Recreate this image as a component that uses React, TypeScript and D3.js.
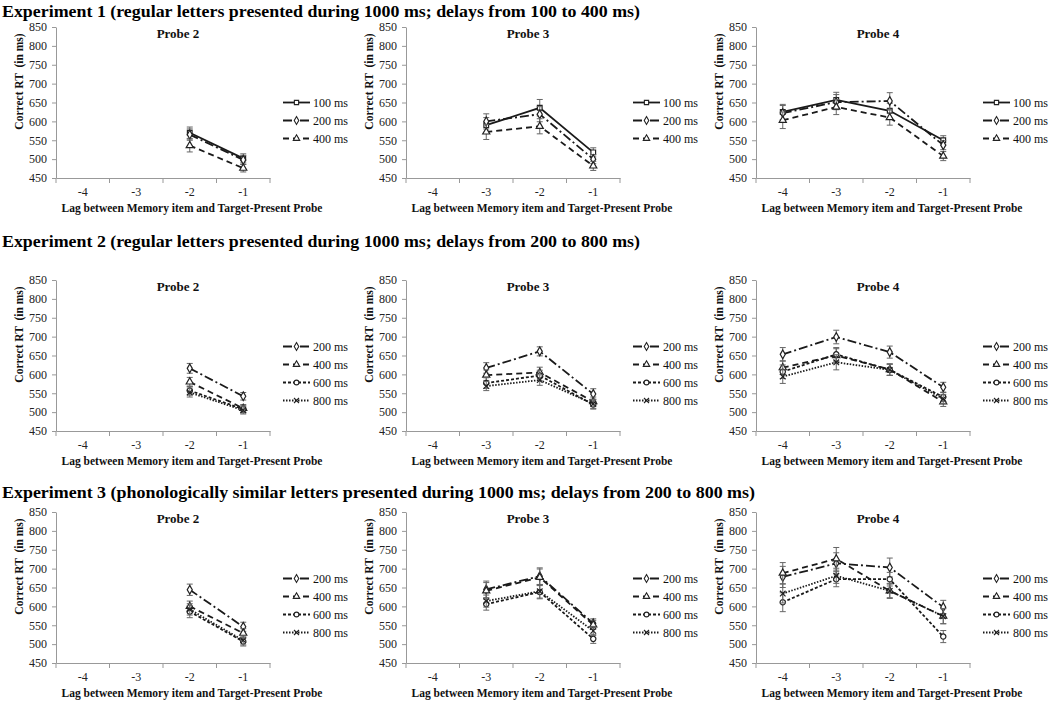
import React, { useRef, useEffect } from 'react';
import * as d3 from 'd3';

// Categories and labels
const lags = ['-4', '-3', '-2', '-1'];
const yTicks = [450, 500, 550, 600, 650, 700, 750, 800, 850];
const experimentTitles = [
  'Experiment 1 (regular letters presented during 1000 ms; delays from 100 to 400 ms)',
  'Experiment 2 (regular letters presented during 1000 ms; delays from 200 to 800 ms)',
  'Experiment 3 (phonologically similar letters presented during 1000 ms; delays from 200 to 800 ms)',
];
const probeTitles = ['Probe 2', 'Probe 3', 'Probe 4'];
const probeLags = [['-2', '-1'], ['-3', '-2', '-1'], ['-4', '-3', '-2', '-1']];
const exp1Delays = ['100 ms', '200 ms', '400 ms'];
const exp23Delays = ['200 ms', '400 ms', '600 ms', '800 ms'];

// Mean correct RT (ms): one row per delay, one value per lag shown
const e1p2Means = [[570, 502], [565, 498], [536, 476]];
const e1p2Errors = [[15, 12], [15, 12], [17, 10]];
const e1p3Means = [[590, 636, 518], [600, 619, 500], [572, 587, 482]];
const e1p3Errors = [[20, 22, 12], [20, 20, 12], [20, 20, 12]];
const e1p4Means = [[625, 657, 628, 550], [622, 651, 654, 537], [603, 638, 610, 508]];
const e1p4Errors = [[20, 20, 20, 12], [20, 20, 22, 12], [22, 20, 20, 12]];

const e2p2Means = [[616, 542], [580, 510], [557, 508], [552, 505]];
const e2p2Errors = [[13, 10], [12, 10], [12, 10], [12, 10]];
const e2p3Means = [[617, 661, 548], [598, 605, 528], [577, 597, 520], [569, 585, 522]];
const e2p3Errors = [[14, 12, 14], [14, 14, 12], [14, 14, 12], [12, 14, 12]];
const e2p4Means = [[653, 699, 659, 566], [618, 650, 613, 527], [607, 653, 612, 540], [594, 632, 612, 535]];
const e2p4Errors = [[18, 18, 16, 13], [18, 18, 15, 12], [18, 18, 15, 12], [18, 20, 15, 12]];

const e3p2Means = [[644, 546], [600, 529], [586, 507], [592, 510]];
const e3p2Errors = [[15, 12], [14, 12], [16, 12], [15, 12]];
const e3p3Means = [[645, 680, 555], [641, 677, 551], [606, 638, 514], [614, 640, 535]];
const e3p3Errors = [[22, 22, 12], [22, 22, 12], [16, 18, 12], [16, 18, 12]];
const e3p4Means = [[678, 714, 703, 598], [688, 726, 641, 574], [611, 672, 672, 520], [634, 681, 641, 574]];
const e3p4Errors = [[28, 28, 25, 18], [28, 30, 20, 20], [25, 20, 18, 16], [25, 20, 18, 20]];

const panels = [
  { row: 0, col: 0, delays: exp1Delays, means: e1p2Means, errors: e1p2Errors },
  { row: 0, col: 1, delays: exp1Delays, means: e1p3Means, errors: e1p3Errors },
  { row: 0, col: 2, delays: exp1Delays, means: e1p4Means, errors: e1p4Errors },
  { row: 1, col: 0, delays: exp23Delays, means: e2p2Means, errors: e2p2Errors },
  { row: 1, col: 1, delays: exp23Delays, means: e2p3Means, errors: e2p3Errors },
  { row: 1, col: 2, delays: exp23Delays, means: e2p4Means, errors: e2p4Errors },
  { row: 2, col: 0, delays: exp23Delays, means: e3p2Means, errors: e3p2Errors },
  { row: 2, col: 1, delays: exp23Delays, means: e3p3Means, errors: e3p3Errors },
  { row: 2, col: 2, delays: exp23Delays, means: e3p4Means, errors: e3p4Errors },
];

// line style + marker per delay
const delayStyles = {
  '100 ms': { dash: null, symbol: d3.symbolSquare },
  '200 ms': { dash: '9,3,2,3', symbol: d3.symbolDiamond },
  '400 ms': { dash: '6,4', symbol: d3.symbolTriangle },
  '600 ms': { dash: '3,2', symbol: d3.symbolCircle },
  '800 ms': { dash: '1.5,1.5', symbol: d3.symbolTimes || d3.symbolCross },
};

const W = 1050;
const H = 704;
const FONT = 'Liberation Serif, Times New Roman, serif';

const ChartGrid = () => {
  const svgRef = useRef(null);

  useEffect(() => {
    const svg = d3.select(svgRef.current);
    svg.selectAll('*').remove();

    const colX = [0, 350, 700];
    const rowTop = [27, 280, 512];
    const titleY = [17, 247, 498];
    const titleLen = [638, 638, 753];
    const plotH = 151;
    const plotL = 56;
    const plotR = 270;

    svg.append('rect').attr('width', W).attr('height', H).attr('fill', '#fff');

    // Experiment headings
    experimentTitles.forEach((t, i) => {
      svg.append('text')
        .attr('x', 2)
        .attr('y', titleY[i])
        .attr('font-family', FONT)
        .attr('font-size', 17)
        .attr('font-weight', 'bold')
        .attr('textLength', titleLen[i])
        .attr('lengthAdjust', 'spacingAndGlyphs')
        .attr('fill', '#000')
        .text(t);
    });

    panels.forEach(p => {
      const g = svg.append('g')
        .attr('transform', `translate(${colX[p.col]},${rowTop[p.row]})`)
        .attr('font-family', FONT);

      const x = d3.scaleBand().domain(lags).range([plotL, plotR]);
      const y = d3.scaleLinear().domain([450, 850]).range([plotH, 0]);
      const bw = x.bandwidth();

      // Y axis
      const ya = g.append('g')
        .attr('transform', `translate(${plotL},0)`)
        .call(d3.axisLeft(y).tickValues(yTicks).tickSize(4).tickSizeOuter(0).tickPadding(5))
        .attr('font-family', FONT);
      ya.select('.domain').attr('stroke', '#999');
      ya.selectAll('.tick line').attr('stroke', '#999');
      ya.selectAll('.tick text')
        .attr('font-size', 12)
        .attr('fill', '#222');

      // X axis
      const xa = g.append('g')
        .attr('transform', `translate(0,${plotH})`)
        .call(d3.axisBottom(x).tickSize(0).tickSizeOuter(0).tickPadding(9))
        .attr('font-family', FONT);
      xa.select('.domain').attr('stroke', '#999');
      xa.selectAll('.tick text')
        .attr('font-size', 12)
        .attr('fill', '#222');
      const bounds = lags.map(l => x(l)).concat([plotR]);
      xa.selectAll('.bound')
        .data(bounds)
        .enter()
        .append('line')
        .attr('x1', d => d)
        .attr('x2', d => d)
        .attr('y1', 0)
        .attr('y2', 5)
        .attr('stroke', '#999');

      // Axis labels
      g.append('text')
        .attr('x', 192)
        .attr('y', plotH + 34)
        .attr('text-anchor', 'middle')
        .attr('font-size', 11.5)
        .attr('font-weight', 'bold')
        .attr('fill', '#111')
        .text('Lag between Memory item and Target-Present Probe');

      g.append('text')
        .attr('transform', 'rotate(-90)')
        .attr('x', -(plotH / 2 - 21))
        .attr('y', 23)
        .attr('text-anchor', 'middle')
        .attr('font-size', 11.5)
        .attr('font-weight', 'bold')
        .attr('fill', '#111')
        .style('white-space', 'pre')
        .text('Correct RT  (in ms)');

      // Panel title
      g.append('text')
        .attr('x', 178)
        .attr('y', 11)
        .attr('text-anchor', 'middle')
        .attr('font-size', 13)
        .attr('font-weight', 'bold')
        .attr('fill', '#111')
        .text(probeTitles[p.col]);

      const shown = probeLags[p.col];
      const line = d3.line();

      p.delays.forEach((delay, si) => {
        const st = delayStyles[delay];
        const pts = shown.map((lag, j) => ({
          cx: x(lag) + bw / 2,
          m: p.means[si][j],
          e: p.errors[si][j],
        }));

        // error bars
        pts.forEach(d => {
          const y0 = y(d.m - d.e);
          const y1 = y(d.m + d.e);
          g.append('line').attr('x1', d.cx).attr('x2', d.cx).attr('y1', y0).attr('y2', y1)
            .attr('stroke', '#666').attr('stroke-width', 1);
          [y0, y1].forEach(yy => {
            g.append('line').attr('x1', d.cx - 3).attr('x2', d.cx + 3).attr('y1', yy).attr('y2', yy)
              .attr('stroke', '#666').attr('stroke-width', 1);
          });
        });

        g.append('path')
          .attr('d', line(pts.map(d => [d.cx, y(d.m)])))
          .attr('fill', 'none')
          .attr('stroke', '#1a1a1a')
          .attr('stroke-width', 1.8)
          .attr('stroke-dasharray', st.dash);

        g.selectAll(null)
          .data(pts)
          .enter()
          .append('path')
          .attr('transform', d => `translate(${d.cx},${y(d.m)})`)
          .attr('d', d3.symbol().type(st.symbol).size(22)())
          .attr('fill', '#fff')
          .attr('stroke', '#222')
          .attr('stroke-width', 1.2);

        // legend entry
        const n = p.delays.length;
        const ly = 93.5 + (si - (n - 1) / 2) * 18;
        g.append('line')
          .attr('x1', 283).attr('x2', 310).attr('y1', ly).attr('y2', ly)
          .attr('stroke', '#1a1a1a')
          .attr('stroke-width', 1.8)
          .attr('stroke-dasharray', st.dash);
        g.append('path')
          .attr('transform', `translate(296.5,${ly})`)
          .attr('d', d3.symbol().type(st.symbol).size(18)())
          .attr('fill', '#fff')
          .attr('stroke', '#222')
          .attr('stroke-width', 1.1);
        g.append('text')
          .attr('x', 313)
          .attr('y', ly)
          .attr('dy', '0.35em')
          .attr('font-size', 12)
          .attr('fill', '#111')
          .text(delay);
      });
    });
  }, []);

  return (
    <svg
      ref={svgRef}
      width={W}
      height={H}
      style={{ position: 'absolute', left: 0, top: 0, display: 'block' }}
    ></svg>
  );
};

export default function App() {
  return <ChartGrid />;
}
